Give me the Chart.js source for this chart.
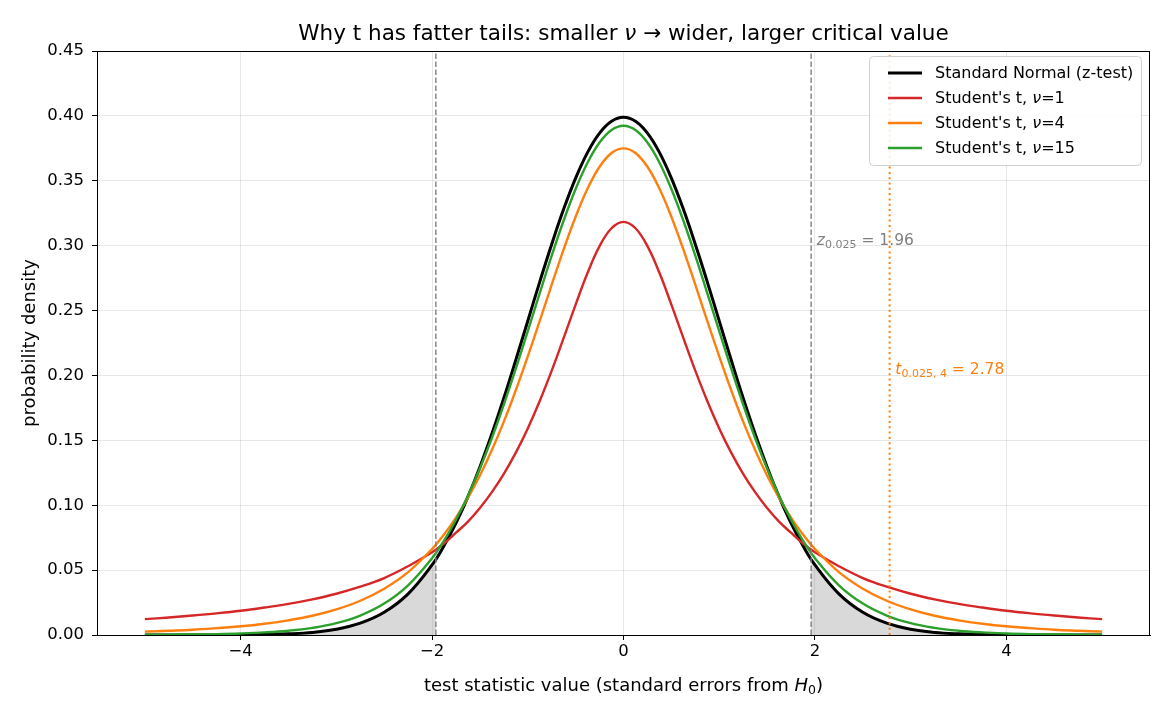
<!DOCTYPE html>
<html>
<head>
<meta charset="utf-8">
<script src="https://cdn.jsdelivr.net/npm/chart.js@4.4.0/dist/chart.umd.min.js"></script>
<style>
  html, body { margin: 0; padding: 0; background: #fff; }
  #wrap { width: 1170px; height: 715px; }
</style>
</head>
<body>
<div id="wrap"><canvas id="chart" width="1170" height="715"></canvas></div>
<script>
// x grid of the curves (standard errors from H0), finer near the centre
const xs = [-5, -4.75, -4.5, -4.25, -4, -3.75, -3.5, -3.25, -3, -2.75, -2.5, -2.25,
  -2, -1.875, -1.75, -1.625, -1.5, -1.375, -1.25, -1.125, -1, -0.875, -0.75, -0.625, -0.5, -0.375, -0.25, -0.125,
  0,
  0.125, 0.25, 0.375, 0.5, 0.625, 0.75, 0.875, 1, 1.125, 1.25, 1.375, 1.5, 1.625, 1.75, 1.875, 2,
  2.25, 2.5, 2.75, 3, 3.25, 3.5, 3.75, 4, 4.25, 4.5, 4.75, 5];

// densities
const normalPdf = [0.0000, 0.0000, 0.0000, 0.0000, 0.0001, 0.0004, 0.0009, 0.0020, 0.0044, 0.0091, 0.0175, 0.0317,
  0.0540, 0.0688, 0.0863, 0.1065, 0.1295, 0.1550, 0.1826, 0.2119, 0.2420, 0.2721, 0.3011, 0.3282, 0.3521, 0.3719, 0.3867, 0.3958,
  0.3989,
  0.3958, 0.3867, 0.3719, 0.3521, 0.3282, 0.3011, 0.2721, 0.2420, 0.2119, 0.1826, 0.1550, 0.1295, 0.1065, 0.0863, 0.0688, 0.0540,
  0.0317, 0.0175, 0.0091, 0.0044, 0.0020, 0.0009, 0.0004, 0.0001, 0.0000, 0.0000, 0.0000, 0.0000];
const t1Pdf = [0.0122, 0.0135, 0.0150, 0.0167, 0.0187, 0.0212, 0.0240, 0.0275, 0.0318, 0.0372, 0.0439, 0.0530,
  0.0637, 0.0705, 0.0788, 0.0874, 0.0979, 0.1101, 0.1242, 0.1405, 0.1592, 0.1803, 0.2037, 0.2289, 0.2546, 0.2791, 0.2996, 0.3134,
  0.3183,
  0.3134, 0.2996, 0.2791, 0.2546, 0.2289, 0.2037, 0.1803, 0.1592, 0.1405, 0.1242, 0.1101, 0.0979, 0.0874, 0.0788, 0.0705, 0.0637,
  0.0530, 0.0439, 0.0372, 0.0318, 0.0275, 0.0240, 0.0212, 0.0187, 0.0167, 0.0150, 0.0135, 0.0122];
const t4Pdf = [0.0026, 0.0033, 0.0041, 0.0053, 0.0067, 0.0087, 0.0113, 0.0148, 0.0197, 0.0264, 0.0357, 0.0485,
  0.0663, 0.0775, 0.0905, 0.1056, 0.1229, 0.1425, 0.1644, 0.1886, 0.2147, 0.2420, 0.2699, 0.2971, 0.3223, 0.3440, 0.3608, 0.3714,
  0.3750,
  0.3714, 0.3608, 0.3440, 0.3223, 0.2971, 0.2699, 0.2420, 0.2147, 0.1886, 0.1644, 0.1425, 0.1229, 0.1056, 0.0905, 0.0775, 0.0663,
  0.0485, 0.0357, 0.0264, 0.0197, 0.0148, 0.0113, 0.0087, 0.0067, 0.0053, 0.0041, 0.0033, 0.0026];
const t15Pdf = [0.0002, 0.0003, 0.0004, 0.0007, 0.0012, 0.0020, 0.0033, 0.0055, 0.0091, 0.0150, 0.0242, 0.0383,
  0.0592, 0.0728, 0.0888, 0.1073, 0.1283, 0.1518, 0.1776, 0.2052, 0.2341, 0.2634, 0.2923, 0.3194, 0.3437, 0.3641, 0.3795, 0.3891,
  0.3924,
  0.3891, 0.3795, 0.3641, 0.3437, 0.3194, 0.2923, 0.2634, 0.2341, 0.2052, 0.1776, 0.1518, 0.1283, 0.1073, 0.0888, 0.0728, 0.0592,
  0.0383, 0.0242, 0.0150, 0.0091, 0.0055, 0.0033, 0.0020, 0.0012, 0.0007, 0.0004, 0.0003, 0.0002];

// critical values
const zCrit = 1.96;
const zCritDensity = 0.0584;
const tCrit = 2.78;

const xTicks = [-4, -2, 0, 2, 4];
const yTicks = [0, 0.05, 0.10, 0.15, 0.20, 0.25, 0.30, 0.35, 0.40, 0.45];

const FONT = "'DejaVu Sans', sans-serif";
const GRAY = '#808080';
const ORANGE = '#ff7f0e';

const pts = arr => xs.map((x, i) => ({ x, y: arr[i] }));
const leftTail = pts(normalPdf).filter(p => p.x < -zCrit).concat([{ x: -zCrit, y: zCritDensity }]);
const rightTail = [{ x: zCrit, y: zCritDensity }].concat(pts(normalPdf).filter(p => p.x > zCrit));
const vline = v => [{ x: v, y: 0 }, { x: v, y: 0.45 }];

function fmtTick(v) {
  return v < 0 ? '\u2212' + Math.abs(v) : String(v);
}

// draw a run of text pieces with mixed fonts / subscripts
function drawRich(ctx, parts, x, y, align) {
  let total = 0;
  parts.forEach(p => { ctx.font = p.font; total += ctx.measureText(p.t).width; });
  let cx = align === 'center' ? x - total / 2 : x;
  parts.forEach(p => {
    ctx.font = p.font;
    ctx.fillText(p.t, cx, y + (p.dy || 0));
    cx += ctx.measureText(p.t).width;
  });
}

const overlay = {
  id: 'overlay',
  afterDraw(chart) {
    const { ctx, chartArea: a, scales: { x, y } } = chart;
    ctx.save();

    // frame
    ctx.strokeStyle = '#000';
    ctx.lineWidth = 1;
    ctx.strokeRect(a.left + 0.5, a.top + 0.5, a.right - a.left - 1, a.bottom - a.top);

    // title
    ctx.fillStyle = '#000';
    ctx.textBaseline = 'alphabetic';
    ctx.textAlign = 'left';
    drawRich(ctx, [
      { t: 'Why t has fatter tails: smaller ', font: `21.5px ${FONT}` },
      { t: '\u03bd', font: `italic 21.5px ${FONT}` },
      { t: ' \u2192 wider, larger critical value', font: `21.5px ${FONT}` },
    ], (a.left + a.right) / 2, 40, 'center');

    // axis titles
    drawRich(ctx, [
      { t: 'test statistic value (standard errors from ', font: `18px ${FONT}` },
      { t: 'H', font: `italic 18px ${FONT}` },
      { t: '0', font: `12.5px ${FONT}`, dy: 3 },
      { t: ')', font: `18px ${FONT}` },
    ], (a.left + a.right) / 2, 691, 'center');
    ctx.save();
    ctx.translate(35, (a.top + a.bottom) / 2);
    ctx.rotate(-Math.PI / 2);
    ctx.font = `18px ${FONT}`;
    ctx.textAlign = 'center';
    ctx.fillText('probability density', 0, 0);
    ctx.restore();

    // annotations
    ctx.textAlign = 'left';
    ctx.fillStyle = GRAY;
    drawRich(ctx, [
      { t: 'z', font: `italic 15.5px ${FONT}` },
      { t: '0.025', font: `11px ${FONT}`, dy: 3 },
      { t: ' = 1.96', font: `15.5px ${FONT}` },
    ], x.getPixelForValue(zCrit + 0.06), y.getPixelForValue(0.30) - 1, 'left');
    ctx.fillStyle = ORANGE;
    drawRich(ctx, [
      { t: 't', font: `italic 15.5px ${FONT}` },
      { t: '0.025, 4', font: `11px ${FONT}`, dy: 3 },
      { t: ' = 2.78', font: `15.5px ${FONT}` },
    ], x.getPixelForValue(tCrit + 0.06), y.getPixelForValue(0.20) - 1, 'left');

    // legend
    const lx = 869, ly = 56, lw = 272, lh = 109;
    ctx.beginPath();
    ctx.roundRect(lx + 0.5, ly + 0.5, lw, lh, 4);
    ctx.fillStyle = 'rgba(255,255,255,0.85)';
    ctx.fill();
    ctx.strokeStyle = '#d0d0d0';
    ctx.stroke();
    const LF = `16px ${FONT}`, LFI = `italic 16px ${FONT}`;
    const items = [
      { color: '#000', w: 3.2, parts: [{ t: 'Standard Normal (z-test)', font: LF }] },
      { color: '#d62728', w: 2.5, parts: [{ t: "Student's t, ", font: LF }, { t: '\u03bd', font: LFI }, { t: '=1', font: LF }] },
      { color: ORANGE, w: 2.5, parts: [{ t: "Student's t, ", font: LF }, { t: '\u03bd', font: LFI }, { t: '=4', font: LF }] },
      { color: '#2ca02c', w: 2.5, parts: [{ t: "Student's t, ", font: LF }, { t: '\u03bd', font: LFI }, { t: '=15', font: LF }] },
    ];
    ctx.textBaseline = 'middle';
    items.forEach((it, i) => {
      const ry = 73 + i * 25;
      ctx.strokeStyle = it.color;
      ctx.lineWidth = it.w;
      ctx.beginPath();
      ctx.moveTo(888, ry);
      ctx.lineTo(922, ry);
      ctx.stroke();
      ctx.fillStyle = '#000';
      drawRich(ctx, it.parts, 935, ry + 1, 'left');
    });

    ctx.restore();
  }
};

const curve = (label, arr, color, width, order) => ({
  label, data: pts(arr), borderColor: color, borderWidth: width, pointRadius: 0,
  fill: false, tension: 0.4, order,
});

new Chart(document.getElementById('chart'), {
  type: 'line',
  data: {
    datasets: [
      { label: 'tailL', data: leftTail, borderWidth: 0, backgroundColor: 'rgba(128,128,128,0.3)', fill: 'origin', pointRadius: 0, tension: 0.4, order: 10 },
      { label: 'tailR', data: rightTail, borderWidth: 0, backgroundColor: 'rgba(128,128,128,0.3)', fill: 'origin', pointRadius: 0, tension: 0.4, order: 10 },
      curve('Standard Normal (z-test)', normalPdf, '#000', 3, 5),
      curve("Student's t, \u03bd=1", t1Pdf, '#d62728', 2.4, 4),
      curve("Student's t, \u03bd=4", t4Pdf, ORANGE, 2.4, 3),
      curve("Student's t, \u03bd=15", t15Pdf, '#2ca02c', 2.4, 2),
      { label: 'zL', data: vline(-zCrit), borderColor: GRAY, borderWidth: 1.4, borderDash: [5.5, 2.5], pointRadius: 0, fill: false, order: 1 },
      { label: 'zR', data: vline(zCrit), borderColor: GRAY, borderWidth: 1.4, borderDash: [5.5, 2.5], pointRadius: 0, fill: false, order: 1 },
      { label: 't4', data: vline(tCrit), borderColor: ORANGE, borderWidth: 2, borderDash: [2, 3.3], pointRadius: 0, fill: false, order: 1 },
    ],
  },
  options: {
    responsive: false,
    animation: false,
    devicePixelRatio: 1,
    layout: { padding: { left: 0, top: 51, right: 20, bottom: 0 } },
    plugins: { legend: { display: false }, tooltip: { enabled: false }, title: { display: false } },
    scales: {
      x: {
        type: 'linear', min: -5.5, max: 5.5,
        afterBuildTicks: s => { s.ticks = xTicks.map(v => ({ value: v })); },
        afterFit: s => { s.height = 80; },
        grid: { color: 'rgba(176,176,176,0.3)', tickColor: '#000', tickLength: 5, drawOnChartArea: true },
        border: { display: true, color: '#000' },
        ticks: { color: '#000', font: { family: FONT, size: 16.5 }, padding: 2, maxRotation: 0, callback: v => fmtTick(v) },
      },
      y: {
        type: 'linear', min: 0, max: 0.45,
        afterBuildTicks: s => { s.ticks = yTicks.map(v => ({ value: v })); },
        afterFit: s => { s.width = 97; },
        grid: { color: 'rgba(176,176,176,0.3)', tickColor: '#000', tickLength: 5 },
        border: { display: true, color: '#000' },
        ticks: { color: '#000', font: { family: FONT, size: 16.5 }, padding: 8, callback: v => v.toFixed(2) },
      },
    },
  },
  plugins: [overlay],
});
</script>
</body>
</html>
